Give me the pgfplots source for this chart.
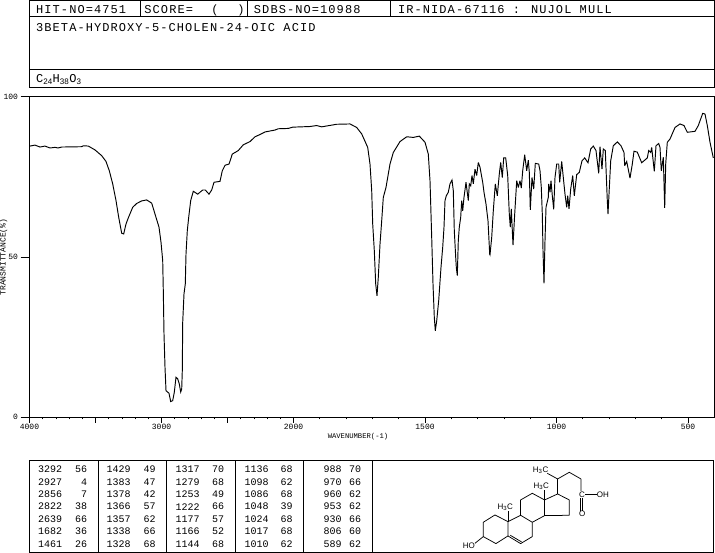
\documentclass[border=0pt]{standalone}
\usepackage{pgfplots}
\pgfplotsset{compat=1.18}
\usepackage{fontspec}
\setmainfont{Liberation Sans}
\newfontfamily\hdr[LetterSpace=9]{Liberation Mono}
\newfontfamily\mon{Liberation Mono}
\newcommand{\Hd}{\hdr\fontsize{12}{12}\selectfont}
\newcommand{\Tb}{\mon\fontsize{10}{10}\selectfont}
\newcommand{\Ax}{\mon\fontsize{8}{8}\selectfont}
\newcommand{\Mo}{\rmfamily\fontsize{8}{8}\selectfont}
\pgfplotstableread{
px T
30 84.6
35 84.9
40 84.3
45 84.6
50 84.0
55 84.2
58 84.0
61.7 84.3
81.7 84.4
83.3 84.7
88.3 84.6
95 83.4
101.7 81.6
106 79.8
109.3 76.9
112.7 72.8
116 67.6
118.7 62.4
121.7 57.4
123.7 57.2
126 60.3
128.3 62.2
132.7 65.5
136.7 66.7
141.7 67.5
146.7 67.8
151.7 66.8
155 63.4
159 59.3
161 54.6
162.7 48.9
163.3 39.5
164 26.0
165 15.6
166 8.3
169 7.5
170.7 4.9
172.7 5.2
174.3 7.8
176 12.5
177.7 12.0
179.3 10.4
180.7 7.9
181.7 8.8
182.3 14.6
182.7 29.6
184 38.5
185.3 41.6
186 50.9
187.3 58.2
188.7 62.4
190.7 67.6
193.3 70.5
197.7 69.6
202.7 70.9
205.3 70.9
209 69.6
211.7 70.9
214 73.3
220 73.6
222.3 76.9
225 78.6
229 79.0
232.3 82.1
238.3 83.2
243.3 85.0
250 86.0
255 87.5
259.3 88.1
265 89.0
275 89.6
278.3 90.0
288.3 90.1
292.7 90.5
310 90.7
316.7 91.0
321.7 90.6
336.7 91.4
350 91.5
356.7 90.4
361.7 88.4
367.7 84.2
370 79.0
371.7 70.7
372.7 60.3
374.3 52.0
375.7 41.6
377 37.9
378.3 43.7
380 54.0
381.7 61.3
383.3 68.6
386 71.7
390 79.0
393.3 82.6
400 86.0
406.7 87.5
413.3 87.3
419.3 87.7
425 85.8
428.3 82.1
430 73.8
431.7 56.1
433 41.6
434.3 31.2
435.3 27.0
436.7 30.1
438.7 36.4
441 46.8
442.7 53.0
444 59.3
445 67.6
446.3 69.1
448.3 70.2
450 72.8
452 74.0
453.3 70.7
454.3 58.2
455.7 49.9
456.3 46.8
457.3 44.2
458.3 55.1
459.3 59.3
460.7 62.4
461.7 67.6
462.7 64.4
464 68.6
466 73.3
468.3 67.6
469.3 72.8
470.7 72.2
472 75.4
473.3 72.8
475 77.4
476.7 75.4
478.3 79.5
480 78.0
482.7 73.3
484 70.2
486 66.5
488 61.3
489.7 50.9
490 50.7
491.7 56.1
493.3 64.4
495.3 72.8
497.3 69.1
499.3 75.9
500.7 79.5
502.3 74.8
503.7 80.9
505.7 80.9
507.7 75.4
509.3 63.4
510.3 59.3
511.3 65.0
513 53.7
514.7 63.4
516.7 73.8
518.3 71.7
520 73.8
521.3 71.5
522.7 76.9
524.7 81.9
526.7 76.9
528.3 80.2
529.3 76.4
530.3 64.7
532 74.8
533.7 71.2
535.3 79.2
538.7 79.0
540 76.9
541.3 71.7
542.3 63.4
543 52.0
544 41.8
545 55.1
546 65.5
548.3 68.6
548.7 72.8
550 70.2
551 73.8
552.3 69.1
553.7 64.9
555 74.8
556.7 79.0
558.7 79.0
559.7 73.3
561.7 79.8
563.3 74.8
565 69.6
566.7 65.5
567.7 69.1
569 65.0
570.7 71.2
572.7 75.4
574.3 69.1
576.7 75.7
579.3 76.4
582 80.0
584.7 80.9
588 79.4
590.7 83.7
593.3 84.6
596 83.2
598.7 76.1
600 84.4
602 77.4
603.3 83.7
605.3 83.2
607.3 67.6
608 63.4
609 69.6
610.7 80.0
613.3 84.7
617.3 85.9
621 84.7
624 82.6
624.7 78.5
626.7 79.8
630 74.6
632.3 79.0
634 83.0
637.3 82.7
641.7 79.4
647.3 80.9
648.7 83.2
650.7 82.6
651.7 84.2
654.3 76.7
656 84.7
658.7 85.4
660 84.2
661.3 76.9
663.3 81.1
664.7 65.3
665.7 79.0
667.3 85.8
670 86.8
675 90.4
680 91.5
684 91.0
687.3 88.9
695 89.2
698.3 91.0
702.7 94.8
705 94.6
707.3 91.0
710 85.8
713.3 80.9
}\spectrum
\begin{document}
\begin{tikzpicture}
\path[use as bounding box] (0,0) rectangle (715pt,-553pt);
\begin{axis}[
  anchor=south west, at={(29.5pt,-417.3pt)},
  scale only axis, width=684.5pt, height=320.6pt,
  xmin=29.5, xmax=714, ymin=0, ymax=100,
  axis line style={line width=0.9pt},
  tick style={black, line width=0.8pt},
  tick align=outside,
  xtick pos=lower, ytick pos=left,
  major tick length=5.5pt, minor tick length=2pt,
  xtick={29.5,95.5,161.5,227.5,293.5,425,556.5,688},
  xticklabels={4000,,3000,,2000,1500,1000,500},
  minor xtick={42.7,55.9,69.1,82.3,108.7,121.9,135.1,148.3,174.7,187.9,201.1,214.3,240.7,253.9,267.1,280.3,319.8,346.1,372.4,398.7,451.3,477.6,503.9,530.2,582.8,609.1,635.4,661.7},
  ytick=\empty,
  minor ytick={10,20,30,40,60,70,80,90},
  extra y ticks={0,50,100},
  extra y tick labels={0,50,100},
  extra y tick style={major tick length=9pt},
  tick label style={font=\Ax},
  /pgf/number format/assume math mode=true,
  xticklabel style={yshift=2pt},
  yticklabel style={xshift=1pt},
  xlabel={\mon\fontsize{7.2}{7.2}\selectfont WAVENUMBER(-1)},
  xlabel style={at={(axis cs:358,0)}, anchor=center, yshift=-19.5pt},
  ylabel={\Ax TRANSMITTANCE(\%)},
  ylabel style={at={(axis cs:29.5,50)}, anchor=center, rotate=0, yshift=26pt},
]
\addplot[black, line width=0.95pt, line join=miter, miter limit=4] table[x=px,y=T] {\spectrum};
\end{axis}
\begin{scope}[x=1pt,y=-1pt,line width=0.9pt]
% header
\draw (29.3,0.7) rectangle (714,87.3);
\draw (29.3,16.7) -- (714,16.7) (29.3,69.3) -- (714,69.3);
\draw (140.3,0.7) -- (140.3,16.7) (247.6,0.7) -- (247.6,16.7) (390.3,0.7) -- (390.3,16.7);
\node[anchor=base west,inner sep=0] at (35.7,13.3) {\Hd HIT-NO=4751};
\node[anchor=base west,inner sep=0] at (144,13.3) {\Hd SCORE=};
\node[anchor=base west,inner sep=0] at (211,13.3) {\Hd (};
\node[anchor=base west,inner sep=0] at (237,13.3) {\Hd )};
\node[anchor=base west,inner sep=0] at (253.5,13.3) {\Hd SDBS-NO=10988};
\node[anchor=base west,inner sep=0] at (397.6,13.3) {\Hd IR-NIDA-67116 : NUJOL MULL};
\node[anchor=base west,inner sep=0] at (35.7,31.3) {\Hd 3BETA-HYDROXY-5-CHOLEN-24-OIC ACID};
\node[anchor=base west,inner sep=0] at (35.7,82.3) {\Hd C$_{\mathrm{24}}$H$_{\mathrm{38}}$O$_{\mathrm{3}}$};
% peak table
\draw (29.3,460.7) rectangle (713.5,552.7);
\foreach \x in {98.7,166.3,235.7,303.7,372.7} \draw (\x,460.7) -- (\x,552.7);
\foreach \y/\pa/\pb/\pc/\pd/\pe/\pf/\pg/\ph/\pi/\pj in {
 469.3/3292/56/1429/49/1317/70/1136/68/988/70,
 481.8/2927/4/1383/47/1279/68/1098/62/970/66,
 494.2/2856/7/1378/42/1253/49/1086/68/960/62,
 506.7/2822/38/1366/57/1222/66/1048/39/953/62,
 519.1/2639/66/1357/62/1177/57/1024/68/930/66,
 531.6/1682/36/1338/66/1166/52/1017/68/806/60,
 544/1461/26/1328/68/1144/68/1010/62/589/62}{
  \node[anchor=east,inner sep=0] at (62.5,\y) {\Tb\pa};
  \node[anchor=east,inner sep=0] at (87.5,\y) {\Tb\pb};
  \node[anchor=east,inner sep=0] at (131,\y) {\Tb\pc};
  \node[anchor=east,inner sep=0] at (156,\y) {\Tb\pd};
  \node[anchor=east,inner sep=0] at (200,\y) {\Tb\pe};
  \node[anchor=east,inner sep=0] at (224.5,\y) {\Tb\pf};
  \node[anchor=east,inner sep=0] at (269,\y) {\Tb\pg};
  \node[anchor=east,inner sep=0] at (293,\y) {\Tb\ph};
  \node[anchor=east,inner sep=0] at (342,\y) {\Tb\pi};
  \node[anchor=east,inner sep=0] at (361.5,\y) {\Tb\pj};
}
\end{scope}
% molecule
\begin{scope}[x=0.3333pt,y=-0.3333pt,shift={(1110,1230)},line width=0.75pt,line join=round]
\draw (315,400) -- (340,380) -- (340,337) -- (375,315) -- (414,335) -- (414,378) -- (378,401) -- (340,380);
\draw (414,335) -- (452,316) -- (487,337) -- (487,380) -- (452,401) -- (414,378);
\draw (421,376) -- (455,396);
\draw (452,316) -- (452,270) -- (487,250) -- (524,270) -- (524,317) -- (487,337);
\draw (524,270) -- (563,252) -- (598,270) -- (598,316) -- (524,317);
\draw (414,335) -- (414,304);
\draw (524,270) -- (524,240);
\draw (563,252) -- (563,207) -- (532,190);
\draw (563,207) -- (598,187) -- (633,207) -- (633,243);
\draw (646,254) -- (680,254);
\draw (630,265) -- (630,302) (637,265) -- (637,302);
\node[inner sep=0] at (297,407) {\Mo HO};
\node[inner sep=0] at (406,292) {\Mo H$_{\mathrm 3}$C};
\node[inner sep=0] at (514,229) {\Mo H$_{\mathrm 3}$C};
\node[inner sep=0] at (512,181) {\Mo H$_{\mathrm 3}$C};
\node[inner sep=0] at (636,254) {\Mo C};
\node[inner sep=0] at (699,254) {\Mo OH};
\node[inner sep=0] at (637,310) {\Mo O};
\end{scope}
\end{tikzpicture}
\end{document}
